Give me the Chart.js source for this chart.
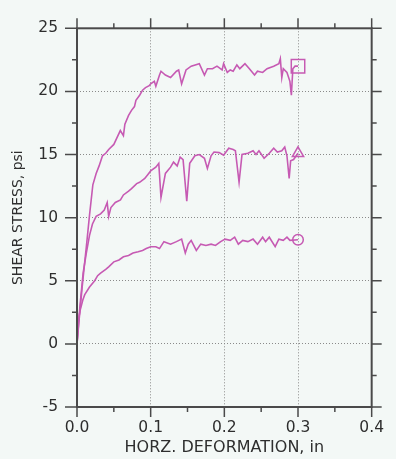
<html><head>
<title>Shear Stress vs Horizontal Deformation</title>
<script src="https://cdn.jsdelivr.net/npm/chart.js"></script>
<style>
  body {
    margin: 0;
    background-color: #f3f8f6;
  }
</style>
</head>
<body>
<canvas id="shearChart" width="396" height="459"></canvas>

<script>
// axis ticks
const xTicks = [0, 0.1, 0.2, 0.3, 0.4];
const xMinor = [0.05, 0.15, 0.25, 0.35];
const yTicks = [-5, 0, 5, 10, 15, 20, 25];
const yMinor = [-2.5, 2.5, 7.5, 12.5, 17.5, 22.5];

// upper curve (square marker)
const squareX = [0, 0.003, 0.007, 0.0105, 0.0127, 0.017, 0.0215, 0.026, 0.030, 0.0346, 0.039, 0.043, 0.05, 0.054,
  0.0588, 0.063, 0.065, 0.07, 0.074, 0.078, 0.080, 0.085, 0.089, 0.093, 0.098, 0.1, 0.105, 0.107, 0.112, 0.114,
  0.12, 0.127, 0.135, 0.138, 0.142, 0.148, 0.155, 0.166, 0.173, 0.177, 0.184, 0.19, 0.197, 0.199, 0.204, 0.208,
  0.212, 0.217, 0.221, 0.228, 0.234, 0.241, 0.245, 0.252, 0.258, 0.267, 0.274, 0.276, 0.278, 0.28, 0.285, 0.289,
  0.291, 0.293, 0.296, 0.3];
const squareY = [0, 2, 4.5, 6.5, 7.7, 10.2, 12.6, 13.5, 14.1, 14.9, 15.1, 15.4, 15.8, 16.3,
  16.9, 16.5, 17.4, 18.1, 18.5, 18.8, 19.3, 19.7, 20.1, 20.3, 20.45, 20.6, 20.8, 20.4, 21.3, 21.6,
  21.3, 21.1, 21.6, 21.7, 20.6, 21.7, 22.0, 22.2, 21.3, 21.8, 21.8, 22.0, 21.7, 22.2, 21.5, 21.7,
  21.6, 22.1, 21.8, 22.2, 21.8, 21.3, 21.6, 21.5, 21.8, 22.0, 22.2, 22.6, 21.1, 21.8, 21.5, 20.8,
  19.7, 21.8, 22.0, 22.0];

// middle curve (triangle marker)
const triangleX = [0, 0.004, 0.0083, 0.0127, 0.017, 0.021, 0.026, 0.032, 0.037, 0.041, 0.043, 0.046, 0.052, 0.059,
  0.063, 0.07, 0.074, 0.081, 0.085, 0.092, 0.096, 0.1, 0.107, 0.111, 0.114, 0.12, 0.127, 0.131, 0.136, 0.14,
  0.144, 0.149, 0.153, 0.16, 0.166, 0.173, 0.177, 0.182, 0.186, 0.193, 0.199, 0.206, 0.212, 0.215, 0.220, 0.224,
  0.232, 0.239, 0.243, 0.247, 0.254, 0.261, 0.267, 0.272, 0.278, 0.282, 0.285, 0.288, 0.29, 0.294, 0.3];
const triangleY = [0, 3.0, 5.6, 7.2, 8.6, 9.5, 10.1, 10.3, 10.6, 11.2, 10.1, 10.8, 11.2, 11.4,
  11.8, 12.1, 12.3, 12.7, 12.8, 13.1, 13.4, 13.7, 14.0, 14.3, 11.6, 13.5, 14.0, 14.4, 14.1, 14.8,
  14.6, 11.3, 14.3, 14.9, 15.0, 14.7, 13.9, 14.9, 15.2, 15.15, 14.95, 15.5, 15.4, 15.3, 12.8, 15.0,
  15.1, 15.3, 15.0, 15.3, 14.7, 15.1, 15.5, 15.2, 15.3, 15.6, 14.9, 13.1, 14.5, 14.6, 15.1];

// lower curve (circle marker)
const circleX = [0, 0.0017, 0.004, 0.008, 0.0105, 0.017, 0.024, 0.028, 0.032, 0.039, 0.043, 0.05, 0.057, 0.063,
  0.07, 0.076, 0.083, 0.089, 0.094, 0.1, 0.107, 0.112, 0.118, 0.127, 0.135, 0.142, 0.147, 0.151, 0.155, 0.162,
  0.168, 0.175, 0.182, 0.188, 0.195, 0.201, 0.208, 0.214, 0.219, 0.225, 0.232, 0.239, 0.245, 0.252, 0.256, 0.261,
  0.269, 0.274, 0.28, 0.285, 0.289, 0.3];
const circleY = [0, 1.75, 2.6, 3.5, 3.9, 4.5, 5.0, 5.4, 5.6, 5.9, 6.1, 6.5, 6.65, 6.9,
  7.0, 7.2, 7.3, 7.4, 7.55, 7.7, 7.7, 7.55, 8.1, 7.9, 8.1, 8.3, 7.2, 7.9, 8.2, 7.4,
  7.9, 7.8, 7.9, 7.8, 8.1, 8.3, 8.2, 8.45, 7.9, 8.2, 8.1, 8.3, 7.9, 8.45, 8.1, 8.45,
  7.7, 8.3, 8.2, 8.45, 8.2, 8.25];

const lineColor = '#c65ab3';
const axisColor = '#4a4a4a';
const textColor = '#2e2e2e';

function toPoints(xs, ys) {
  return xs.map((v, i) => ({x: v, y: ys[i]}));
}

function makeSet(xs, ys, style, radius) {
  const last = xs.length - 1;
  return {
    data: toPoints(xs, ys),
    showLine: true,
    borderColor: lineColor,
    borderWidth: 1.6,
    tension: 0,
    pointStyle: style,
    pointRadius: ctx => ctx.dataIndex === last ? radius : 0,
    pointBackgroundColor: 'transparent',
    pointBorderColor: lineColor,
    pointBorderWidth: 1.5
  };
}

// frame + major/minor tick marks on all four sides
const framePlugin = {
  id: 'frame',
  afterDatasetsDraw(chart) {
    const {ctx, chartArea: a, scales: {x, y}} = chart;
    ctx.save();
    ctx.strokeStyle = axisColor;
    ctx.lineWidth = 2;
    ctx.strokeRect(a.left, a.top, a.right - a.left, a.bottom - a.top);
    ctx.lineWidth = 1.5;
    ctx.beginPath();
    xTicks.concat(xMinor).forEach(v => {
      const px = x.getPixelForValue(v);
      const len = xTicks.includes(v) ? 10 : 5;
      ctx.moveTo(px, a.bottom); ctx.lineTo(px, a.bottom + len);
      ctx.moveTo(px, a.top); ctx.lineTo(px, a.top - len);
    });
    yTicks.concat(yMinor).forEach(v => {
      const py = y.getPixelForValue(v);
      const major = yTicks.includes(v);
      ctx.moveTo(a.left, py); ctx.lineTo(a.left - (major ? 12 : 5), py);
      ctx.moveTo(a.right, py); ctx.lineTo(a.right + (major ? 10 : 5), py);
    });
    ctx.stroke();
    ctx.restore();
  }
};

new Chart(document.getElementById('shearChart'), {
  type: 'scatter',
  data: {
    datasets: [
      makeSet(squareX, squareY, 'rect', 9.5),
      makeSet(triangleX, triangleY, 'triangle', 6.5),
      makeSet(circleX, circleY, 'circle', 5.3)
    ]
  },
  options: {
    responsive: false,
    animation: false,
    devicePixelRatio: 1,
    layout: {padding: {top: 19, right: 15, left: 0, bottom: 0}},
    plugins: {legend: {display: false}, tooltip: {enabled: false}},
    scales: {
      x: {
        type: 'linear',
        min: 0,
        max: 0.4,
        afterBuildTicks: s => { s.ticks = xTicks.map(v => ({value: v})); },
        afterFit: s => { s.height = 52; },
        border: {display: false, dash: [1, 2]},
        grid: {color: '#8a8a8a', lineWidth: 1, drawTicks: false},
        ticks: {
          padding: 12,
          color: textColor,
          font: {family: 'DejaVu Sans', size: 15.5},
          callback: v => v.toFixed(1)
        },
        title: {
          display: true,
          text: 'HORZ. DEFORMATION, in',
          color: textColor,
          font: {family: 'DejaVu Sans', size: 16},
          padding: {top: 0, bottom: 1.5}
        }
      },
      y: {
        type: 'linear',
        min: -5,
        max: 25,
        afterBuildTicks: s => { s.ticks = yTicks.map(v => ({value: v})); },
        afterFit: s => { s.width = 77; },
        border: {display: false, dash: [1, 2]},
        grid: {color: '#8a8a8a', lineWidth: 1, drawTicks: false},
        ticks: {
          padding: 19,
          color: textColor,
          font: {family: 'DejaVu Sans', size: 15.5}
        },
        title: {
          display: true,
          text: 'SHEAR STRESS, psi',
          color: textColor,
          font: {family: 'DejaVu Sans', size: 14},
          padding: {top: 10, bottom: 0}
        }
      }
    }
  },
  plugins: [framePlugin]
});
</script>
</body></html>
